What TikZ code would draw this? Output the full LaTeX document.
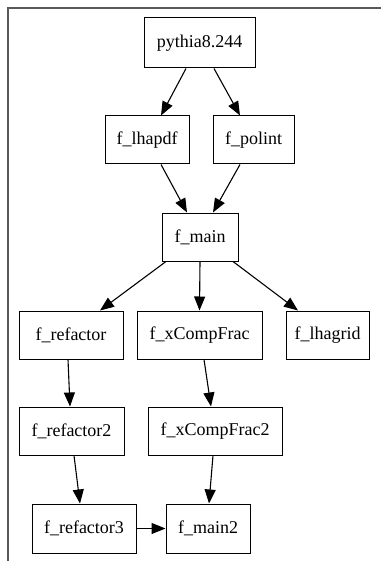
\documentclass[tikz,border=0pt]{standalone}
\usepackage{fontspec}
\setmainfont{Liberation Serif}
\usetikzlibrary{arrows.meta}
\begin{document}
\begin{tikzpicture}[x=1pt,y=-1pt,
  box/.style={draw,line width=1pt,inner sep=0pt,minimum height=48pt,font=\fontsize{18}{20}\selectfont},
  edge/.style={line width=1.1pt,-{Triangle[length=14pt,width=11pt]}}]
\useasboundingbox (0,0) rectangle (381,561);
\draw[line width=1.4pt,black!65] (381,8) -- (8,8) -- (8,561);
\node[box,minimum width=111pt,minimum height=50pt] (py) at (199.5,43) {pythia8.244};
\node[box,minimum width=84pt] (lh) at (147,140) {f\_lhapdf};
\node[box,minimum width=81pt] (po) at (253.5,140) {f\_polint};
\node[box,minimum width=76pt] (ma) at (200,237) {f\_main};
\node[box,minimum width=104pt] (rf) at (71,335) {f\_refactor};
\node[box,minimum width=125pt] (xc) at (199.5,335) {f\_xCompFrac};
\node[box,minimum width=83pt] (lg) at (327.5,335) {f\_lhagrid};
\node[box,minimum width=105pt] (rf2) at (71.5,431) {f\_refactor2};
\node[box,minimum width=134pt] (xc2) at (215,431) {f\_xCompFrac2};
\node[box,minimum width=104pt,minimum height=49pt] (rf3) at (84,528.5) {f\_refactor3};
\node[box,minimum width=84pt,minimum height=49pt] (m2) at (208,528.5) {f\_main2};
\draw[edge] ([xshift=-13.5pt]py.south) -- ([xshift=14pt]lh.north);
\draw[edge] ([xshift=14.5pt]py.south) -- ([xshift=-13.5pt]po.north);
\draw[edge] ([xshift=14pt]lh.south) -- ([xshift=-13pt]ma.north);
\draw[edge] ([xshift=-13.5pt]po.south) -- ([xshift=13pt]ma.north);
\draw[edge] ([xshift=-34pt]ma.south) -- ([xshift=29pt]rf.north);
\draw[edge] (ma.south) -- (xc.north);
\draw[edge] ([xshift=33pt]ma.south) -- ([xshift=-29.5pt]lg.north);
\draw[edge] ([xshift=-3pt]rf.south) -- ([xshift=-1.5pt]rf2.north);
\draw[edge] ([xshift=4.5pt]xc.south) -- ([xshift=-4pt]xc2.north);
\draw[edge] ([xshift=2.5pt]rf2.south) -- ([xshift=-4pt]rf3.north);
\draw[edge] ([xshift=-2pt]xc2.south) -- ([xshift=1pt]m2.north);
\draw[edge] (rf3.east) -- (m2.west);
\end{tikzpicture}
\end{document}
